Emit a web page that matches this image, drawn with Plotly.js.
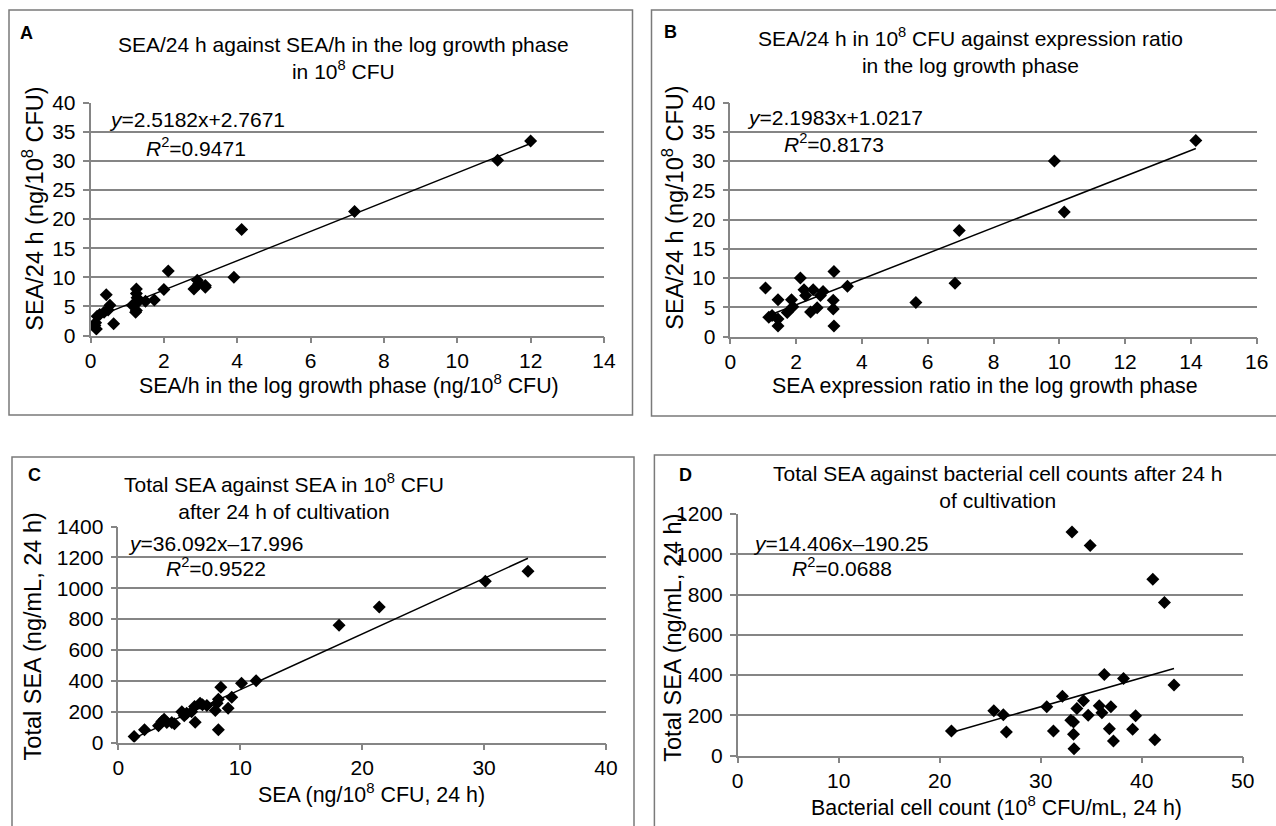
<!DOCTYPE html>
<html>
<head>
<meta charset="utf-8">
<script src="https://cdn.plot.ly/plotly-3.0.1.min.js"></script>
<style>
html,body{margin:0;padding:0;background:#fff;}
#chart{width:1276px;height:826px;}
</style>
</head>
<body>
<div id="chart"></div>
<script>
// ---------- Data ----------
// Panel A: SEA/h in log growth phase (x) vs SEA/24 h (y)
var aX = [0.12,0.14,0.16,0.18,0.25,0.37,0.43,0.48,0.53,0.63,1.14,1.23,1.25,1.25,1.25,1.25,1.27,1.5,1.74,2.0,2.12,2.82,2.91,2.95,3.13,3.13,3.91,4.12,7.2,11.1,12.0];
var aY = [1.7,2.2,1.1,3.3,3.6,4.0,7.0,4.4,5.2,2.0,5.2,4.0,8.0,7.2,5.5,4.3,6.5,5.9,6.1,7.9,11.1,8.0,9.5,8.9,8.3,8.6,10.0,18.2,21.3,30.1,33.4];
// Panel B: SEA expression ratio (x) vs SEA/24 h (y)
var bX = [1.07,1.17,1.27,1.45,1.45,1.45,1.73,1.86,1.90,2.13,2.24,2.29,2.44,2.52,2.64,2.74,2.82,3.13,3.13,3.15,3.15,3.56,5.64,6.83,6.96,9.85,10.15,14.15];
var bY = [8.3,3.3,3.6,6.3,1.8,3.0,4.1,6.3,5.1,10.0,8.0,7.0,4.2,8.0,4.9,7.0,7.7,6.2,4.7,11.1,1.8,8.6,5.8,9.1,18.1,30.0,21.3,33.5];
// Panel C: SEA in 10^8 CFU (x) vs total SEA (y)
var cX = [1.29,2.14,3.29,3.56,3.75,3.97,4.38,4.6,5.2,5.4,5.6,6.0,6.25,6.3,6.7,6.9,7.26,7.95,8.1,8.2,8.4,8.2,9.0,9.3,10.1,11.3,18.1,21.4,30.1,33.6];
var cY = [39,82,108,136,151,129,129,121,200,173,190,200,233,132,255,244,240,207,255,280,358,82,222,293,384,401,760,879,1045,1110];
// Panel D: bacterial cell count (x) vs total SEA (y)
var dX = [21.16,25.36,26.3,26.6,30.6,31.26,32.15,32.98,33.25,33.25,33.3,33.1,33.58,34.24,34.7,34.9,35.8,36.06,36.3,36.8,36.95,37.2,38.2,39.1,39.4,41.1,41.3,42.25,43.2];
var dY = [122,222,203,117,242,122,295,175,167,105,33,1111,233,272,200,1044,247,213,403,133,242,72,383,130,197,876,78,760,350];

// Trendline equations (as printed in the chart)
var slopes = [2.5182, 2.1983, 36.092, 14.406];
var intercepts = [2.7671, 1.0217, -17.996, -190.25];
var r2 = ["0.9471", "0.8173", "0.9522", "0.0688"];
var eqText = ["<i>y</i>=2.5182x+2.7671", "<i>y</i>=2.1983x+1.0217", "<i>y</i>=36.092x\u201317.996", "<i>y</i>=14.406x\u2013190.25"];

var panelLetters = ["A","B","C","D"];
var panelTitles = [
  "SEA/24 h against SEA/h in the log growth phase<br>in 10<sup>8</sup> CFU",
  "SEA/24 h in 10<sup>8</sup> CFU against expression ratio<br>in the log growth phase",
  "Total SEA against SEA in 10<sup>8</sup> CFU<br>after 24 h of cultivation",
  "Total SEA against bacterial cell counts after 24 h<br>of cultivation"
];
var xTitles = [
  "SEA/h in the log growth phase (ng/10<sup>8</sup> CFU)",
  "SEA expression ratio in the log growth phase",
  "SEA (ng/10<sup>8</sup> CFU, 24 h)",
  "Bacterial cell count (10<sup>8</sup> CFU/mL, 24 h)"
];
var yTitles = [
  "SEA/24 h (ng/10<sup>8</sup> CFU)",
  "SEA/24 h (ng/10<sup>8</sup> CFU)",
  "Total SEA (ng/mL, 24 h)",
  "Total SEA (ng/mL, 24 h)"
];
var xRanges = [[0,14],[0,16],[0,40],[0,50]];
var yRanges = [[0,40],[0,40],[0,1400],[0,1200]];
var xDtick = [2,2,10,10];
var yDtick = [5,5,200,200];

// ---------- Layout geometry (pixels) ----------
var W = 1276, H = 826;
function px(x){ return x / W; }
function py(y){ return 1 - y / H; }
// plot areas: [left, right, top, bottom]
var areas = [
  [90.5, 604, 102.7, 335.5],
  [730.3, 1256.7, 102.5, 336.5],
  [118.4, 606, 526.6, 742.5],
  [737.7, 1242.7, 514, 755.5]
];
var boxes = [
  [9, 632.5, 10, 415],
  [651.5, 1290, 10, 416],
  [12, 634, 457, 840],
  [654.4, 1290, 455, 840]
];
var letterPos = [[26.5,33],[670.7,32],[34.7,475],[685,475]];
var titlePos = [[343,57.5],[970.7,50.5],[283.7,496],[997,487]];
var eqPos = [[107,120],[745,118],[126,543],[751,543]];
var r2Pos = [[144,147],[782,143],[164,567],[790,567]];
var xTitlePos = [[349,384],[985,386],[371,793],[996,806]];
var yTitlePos = [[32.7,209],[672.7,208],[32.7,636.7],[672.7,638]];

var FONT = "Liberation Sans, Arial, Helvetica, sans-serif";
var GRAY = "#858585";
var FS = 21;

var data = [];
var layout = {
  width: W, height: H,
  margin: {l:0, r:0, t:0, b:0},
  paper_bgcolor: "#ffffff",
  plot_bgcolor: "rgba(0,0,0,0)",
  showlegend: false,
  font: {family: FONT, size: FS, color: "#000"},
  annotations: [],
  shapes: []
};

var xs = [aX, bX, cX, dX];
var ys = [aY, bY, cY, dY];

function addText(x, y, text, size, opts) {
  var a = {
    xref: "paper", yref: "paper",
    x: px(x), y: py(y),
    xanchor: "center", yanchor: "middle", showarrow: false, align: "center",
    text: text,
    font: {family: FONT, size: size, color: "#000"}
  };
  for (var k in (opts || {})) a[k] = opts[k];
  layout.annotations.push(a);
}

for (var i = 0; i < 4; i++) {
  var sfx = i === 0 ? "" : String(i + 1);
  var xa = "x" + sfx, ya = "y" + sfx;
  var ar = areas[i];

  data.push({
    type: "scatter", mode: "markers",
    x: xs[i], y: ys[i], xaxis: xa, yaxis: ya,
    marker: {symbol: "diamond", size: 10, color: "#000"},
    hoverinfo: "x+y"
  });
  var xmin = Math.min.apply(null, xs[i]);
  var xmax = Math.max.apply(null, xs[i]);
  data.push({
    type: "scatter", mode: "lines",
    x: [xmin, xmax],
    y: [slopes[i] * xmin + intercepts[i], slopes[i] * xmax + intercepts[i]],
    xaxis: xa, yaxis: ya,
    line: {color: "#000", width: 1.5},
    hoverinfo: "skip"
  });

  layout["xaxis" + sfx] = {
    domain: [px(ar[0]), px(ar[1])],
    anchor: ya,
    range: xRanges[i], dtick: xDtick[i], tick0: 0,
    showgrid: false, zeroline: false,
    showline: true, linecolor: GRAY, linewidth: 1.5,
    ticks: "outside", ticklen: 6, tickwidth: 1.5, tickcolor: GRAY,
    tickfont: {family: FONT, size: FS, color: "#000"},
    ticklabelstandoff: 0,
    fixedrange: true
  };
  layout["yaxis" + sfx] = {
    domain: [py(ar[3]), py(ar[2])],
    anchor: xa,
    range: yRanges[i], dtick: yDtick[i], tick0: 0,
    showgrid: true, gridcolor: GRAY, gridwidth: 1.5,
    zeroline: false,
    showline: true, linecolor: GRAY, linewidth: 1.5,
    ticks: "outside", ticklen: 6, tickwidth: 1.5, tickcolor: GRAY,
    tickfont: {family: FONT, size: FS, color: "#000"},
    ticklabelstandoff: 3,
    fixedrange: true
  };

  var bx = boxes[i];
  layout.shapes.push({
    type: "rect", xref: "paper", yref: "paper",
    x0: px(bx[0]), x1: px(bx[1]), y0: py(bx[3]), y1: py(bx[2]),
    line: {color: "#7a7a7a", width: 1.5}, fillcolor: "rgba(0,0,0,0)", layer: "below"
  });

  addText(letterPos[i][0], letterPos[i][1], "<b>" + panelLetters[i] + "</b>", 18);
  addText(titlePos[i][0], titlePos[i][1], panelTitles[i], FS);
  addText(eqPos[i][0], eqPos[i][1], eqText[i], FS, {xanchor: "left"});
  addText(r2Pos[i][0], r2Pos[i][1], "<i>R</i><sup>2</sup>=" + r2[i], FS, {xanchor: "left"});
  addText(xTitlePos[i][0], xTitlePos[i][1], xTitles[i], 21.4);
  addText(yTitlePos[i][0], yTitlePos[i][1], yTitles[i], 23.5, {textangle: -90});
}

Plotly.newPlot("chart", data, layout, {displayModeBar: false});
</script>
</body>
</html>
